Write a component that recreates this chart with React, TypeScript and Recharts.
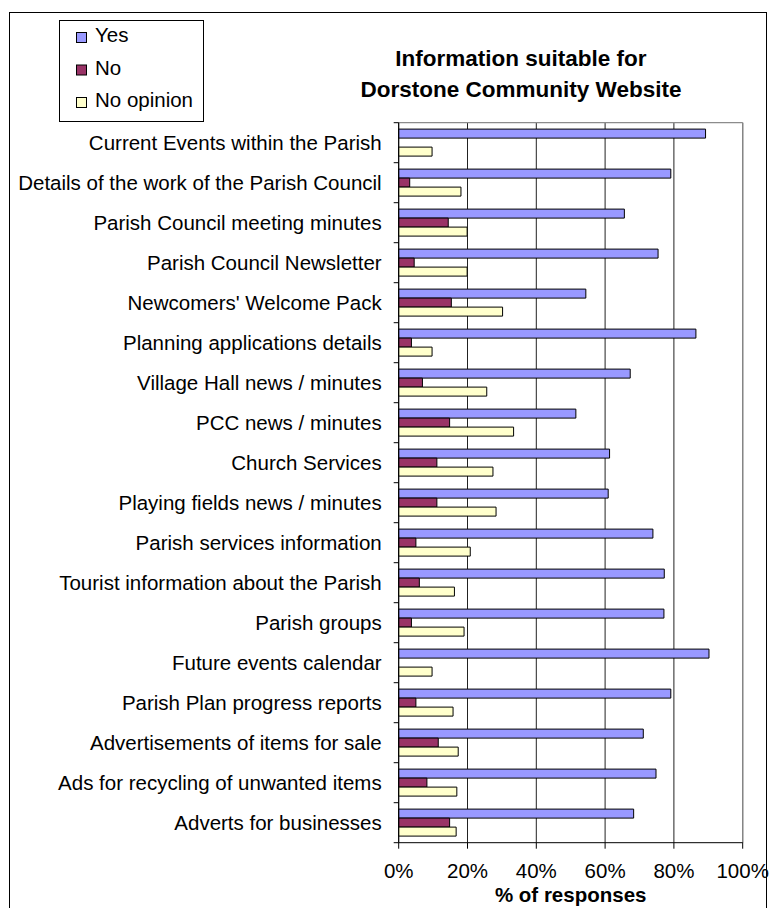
import React from 'react';
import { BarChart, Bar, XAxis, YAxis, CartesianGrid, Legend } from 'recharts';

const categories = [
  'Current Events within the Parish',
  'Details of the work of the Parish Council',
  'Parish Council meeting minutes',
  'Parish Council Newsletter',
  "Newcomers' Welcome Pack",
  'Planning applications details',
  'Village Hall news / minutes',
  'PCC news / minutes',
  'Church Services',
  'Playing fields news / minutes',
  'Parish services information',
  'Tourist information about the Parish',
  'Parish groups',
  'Future events calendar',
  'Parish Plan progress reports',
  'Advertisements of items for sale',
  'Ads for recycling of unwanted items',
  'Adverts for businesses',
];

const yesValues = [89.2, 79.1, 65.6, 75.4, 54.4, 86.4, 67.3, 51.5, 61.3, 60.9, 73.9, 77.2, 77.1, 90.2, 79.1, 71.1, 74.8, 68.3];
const noValues = [0, 3.2, 14.4, 4.5, 15.3, 3.7, 6.9, 14.8, 11.1, 11.1, 5.0, 6.0, 3.7, 0, 5.0, 11.5, 8.2, 14.8];
const opinionValues = [9.7, 18.1, 19.9, 19.9, 30.2, 9.7, 25.6, 33.4, 27.4, 28.3, 20.8, 16.2, 19.0, 9.7, 15.8, 17.3, 16.9, 16.7];

const seriesNames = ['Yes', 'No', 'No opinion'];
const xTicks = [0, 20, 40, 60, 80, 100];

const titleLines = ['Information suitable for', 'Dorstone Community Website'];
const xAxisTitle = '% of responses';

const data = categories.map((item, i) => ({
  item,
  yes: yesValues[i],
  no: noValues[i],
  opinion: opinionValues[i],
}));

const FONT = '"Liberation Sans", Arial, Helvetica, sans-serif';
const TICK_SIZE = 5;
const TICK_MARGIN = 12;

const YTick = (props: any) => {
  const { x, y, payload, index, visibleTicksCount } = props;
  const half = payload && typeof payload.offset === 'number' && payload.offset > 0 ? payload.offset : 20;
  const axisX = x + TICK_SIZE + TICK_MARGIN;
  const isLast = index === visibleTicksCount - 1;
  return (
    <g>
      <line x1={axisX - TICK_SIZE} x2={axisX} y1={y - half} y2={y - half} stroke="#000" strokeWidth={1} />
      {isLast && (
        <line x1={axisX - TICK_SIZE} x2={axisX} y1={y + half} y2={y + half} stroke="#000" strokeWidth={1} />
      )}
      <text x={x} y={y} dy="0.355em" textAnchor="end" fontSize={20.5} fontFamily={FONT} fill="#000">
        {payload.value}
      </text>
    </g>
  );
};

const LegendBox = (props: any) => {
  const items = [...(props.payload || [])].sort(
    (a: any, b: any) => seriesNames.indexOf(a.value) - seriesNames.indexOf(b.value)
  );
  return (
    <svg width={146} height={103} style={{ display: 'block' }}>
      <rect x={0.5} y={0.5} width={144} height={101} fill="#fff" stroke="#000" strokeWidth={1} />
      {items.map((entry: any, i: number) => (
        <g key={i}>
          <rect x={17.5} y={12.5 + 32.5 * i} width={10} height={10} fill={entry.color} stroke="#000" strokeWidth={1} />
          <text x={36} y={22 + 32.5 * i} fontSize={20.5} fontFamily={FONT} fill="#000">
            {entry.value}
          </text>
        </g>
      ))}
    </svg>
  );
};

export default function App() {
  return (
    <div
      style={{
        position: 'absolute',
        left: 0,
        top: 0,
        width: 770,
        height: 908,
        background: '#fff',
        overflow: 'hidden',
        fontFamily: FONT,
      }}
    >
      <div
        style={{
          position: 'absolute',
          left: 9,
          top: 12,
          width: 758,
          height: 910,
          border: '1px solid #000',
          boxSizing: 'border-box',
        }}
      />
      <div style={{ position: 'absolute', left: 0, top: 0 }}>
        <BarChart
          width={770}
          height={908}
          data={data}
          layout="vertical"
          margin={{ top: 122.7, right: 27.3, bottom: 0.3, left: 0 }}
          barCategoryGap="16%"
          barGap={0}
        >
          <CartesianGrid vertical={true} horizontal={false} stroke="#222" strokeWidth={1} />
          <CartesianGrid
            horizontalCoordinatesGenerator={({ offset }: any) => [offset.top]}
            verticalCoordinatesGenerator={({ offset }: any) => [offset.left + offset.width]}
            stroke="#8c8c8c"
            strokeWidth={1.2}
          />
          <XAxis
            type="number"
            domain={[0, 100]}
            ticks={xTicks}
            interval={0}
            tickFormatter={(v: number) => `${v}%`}
            height={65}
            tickSize={6}
            tickMargin={15}
            stroke="#000"
            tick={{ fill: '#000', fontSize: 20.5, fontFamily: FONT }}
            label={{
              value: xAxisTitle,
              position: 'insideBottom',
              offset: 6,
              style: { fontSize: 20.5, fontWeight: 'bold', fontFamily: FONT, fill: '#000' },
            }}
          />
          <YAxis
            type="category"
            dataKey="item"
            width={398.7}
            interval={0}
            tickSize={TICK_SIZE}
            tickMargin={TICK_MARGIN}
            tickLine={false}
            stroke="#000"
            tick={<YTick />}
          />
          <Legend
            layout="vertical"
            align="center"
            verticalAlign="middle"
            itemSorter={null as any}
            content={<LegendBox />}
            wrapperStyle={{ left: 59, top: 20, width: 146, height: 103 }}
          />
          <Bar dataKey="yes" name={seriesNames[0]} fill="#9999FF" stroke="#000" strokeWidth={1} isAnimationActive={false} />
          <Bar dataKey="no" name={seriesNames[1]} fill="#993366" stroke="#000" strokeWidth={1} isAnimationActive={false} />
          <Bar dataKey="opinion" name={seriesNames[2]} fill="#FFFFCC" stroke="#000" strokeWidth={1} isAnimationActive={false} />
        </BarChart>
      </div>
      <div
        style={{
          position: 'absolute',
          left: 321,
          top: 42.6,
          width: 400,
          textAlign: 'center',
          fontSize: 22.5,
          lineHeight: '31px',
          fontWeight: 'bold',
          color: '#000',
          fontFamily: FONT,
        }}
      >
        {titleLines.map((t, i) => (
          <div key={i}>{t}</div>
        ))}
      </div>
    </div>
  );
}
